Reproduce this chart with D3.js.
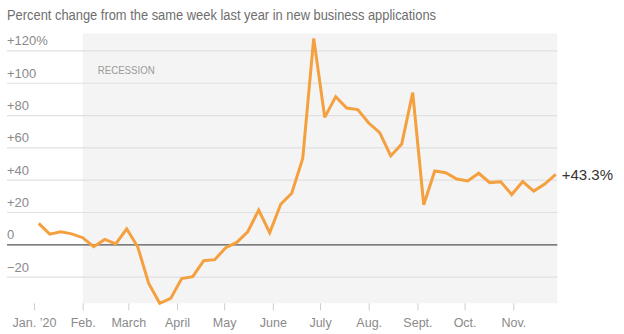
<!DOCTYPE html>
<html>
<head>
<meta charset="utf-8">
<script src="https://cdn.jsdelivr.net/npm/d3@7"></script>
<style>
  html, body { margin: 0; padding: 0; background: #fff; }
  svg { display: block; font-family: "Liberation Sans", Arial, sans-serif; }
</style>
</head>
<body>
<svg id="chart" width="624" height="334"></svg>
<script>
// Weekly change in new business applications vs. the same week a year earlier (weeks ending Saturday)
const weeks = [
  "2020-01-04","2020-01-11","2020-01-18","2020-01-25",
  "2020-02-01","2020-02-08","2020-02-15","2020-02-22","2020-02-29",
  "2020-03-07","2020-03-14","2020-03-21","2020-03-28",
  "2020-04-04","2020-04-11","2020-04-18","2020-04-25",
  "2020-05-02","2020-05-09","2020-05-16","2020-05-23","2020-05-30",
  "2020-06-06","2020-06-13","2020-06-20","2020-06-27",
  "2020-07-04","2020-07-11","2020-07-18","2020-07-25",
  "2020-08-01","2020-08-08","2020-08-15","2020-08-22","2020-08-29",
  "2020-09-05","2020-09-12","2020-09-19","2020-09-26",
  "2020-10-03","2020-10-10","2020-10-17","2020-10-24","2020-10-31",
  "2020-11-07","2020-11-14","2020-11-21","2020-11-28"
];
const pctChange = [
  13.0, 6.3, 7.7, 6.5,
  4.1, -1.5, 3.0, 0.2, 9.5,
  -1.5, -24.2, -36.5, -33.5,
  -21.2, -20.0, -10.1, -9.5,
  -2.1, 1.2, 7.8, 21.2, 7.2,
  24.8, 31.6, 53.2, 127.5,
  78.6, 91.4, 84.4, 83.4,
  75.1, 69.1, 54.7, 62.1, 93.9,
  24.5, 45.4, 44.3, 40.4,
  39.2, 44.0, 38.2, 38.7, 30.8,
  38.8, 33.0, 37.3, 43.3
];
const yTicks = [-20, 0, 20, 40, 60, 80, 100, 120];
const yTickLabels = ["\u221220", "0", "+20", "+40", "+60", "+80", "+100", "+120%"];
const monthStarts = ["2020-01-01","2020-02-01","2020-03-01","2020-04-01","2020-05-01","2020-06-01",
                     "2020-07-01","2020-08-01","2020-09-01","2020-10-01","2020-11-01"];
const monthLabels = ["Jan. \u201920", "Feb.", "March", "April", "May", "June",
                     "July", "Aug.", "Sept.", "Oct.", "Nov."];
const recessionStart = "2020-02-01";
const titleText = "Percent change from the same week last year in new business applications";
const recessionLabel = "RECESSION";

const parse = d3.utcParse("%Y-%m-%d");
const data = weeks.map((w, i) => ({ date: parse(w), value: pctChange[i] }));

const svg = d3.select("#chart");
const plotLeft = 34, plotRight = 557.3, plotTop = 33.5, plotBottom = 303.3;

const x = d3.scaleUtc()
  .domain([parse("2020-01-01"), parse("2020-11-29")])
  .range([plotLeft, plotRight]);
const y = d3.scaleLinear()
  .domain([-36.5, 130.5])
  .range([plotBottom, plotTop]);

// Title
svg.append("text")
  .attr("x", 7).attr("y", 20)
  .attr("fill", "#6e6e6e")
  .attr("font-size", 15.5)
  .attr("textLength", 429)
  .attr("lengthAdjust", "spacingAndGlyphs")
  .text(titleText);

// Recession shading
const recX = x(parse(recessionStart));
svg.append("rect")
  .attr("x", recX)
  .attr("y", plotTop)
  .attr("width", plotRight - recX)
  .attr("height", plotBottom - plotTop)
  .attr("fill", "#f4f4f4");

svg.append("text")
  .attr("x", recX + 15)
  .attr("y", 74)
  .attr("fill", "#9a9a9a")
  .attr("font-size", 10.5)
  .attr("textLength", 57)
  .attr("lengthAdjust", "spacingAndGlyphs")
  .text(recessionLabel);

// Horizontal gridlines with labels above them
const yAxis = d3.axisRight(y)
  .tickValues(yTicks)
  .tickSize(plotRight - 7)
  .tickFormat((d, i) => yTickLabels[i]);

const gy = svg.append("g")
  .attr("transform", "translate(7,0)")
  .call(yAxis);
gy.select(".domain").remove();
gy.selectAll(".tick line")
  .attr("stroke", d => d === 0 ? "#555" : "#e0e0e0")
  .attr("stroke-width", d => d === 0 ? 1.3 : 1.2);
gy.selectAll(".tick text")
  .attr("x", 0)
  .attr("dy", -5.5)
  .attr("text-anchor", "start")
  .attr("fill", "#8a8a8a")
  .attr("font-size", 13)
  .attr("font-family", "Liberation Sans, Arial, sans-serif");

// Month axis
const xAxis = d3.axisBottom(x)
  .tickValues(monthStarts.map(parse))
  .tickSize(7)
  .tickFormat((d, i) => monthLabels[i]);

const gx = svg.append("g")
  .attr("transform", `translate(0,${plotBottom})`)
  .call(xAxis);
gx.select(".domain").remove();
gx.selectAll(".tick line").attr("stroke", "#cfcfcf");
gx.selectAll(".tick text")
  .attr("y", 23.4)
  .attr("dy", null)
  .attr("fill", "#8a8a8a")
  .attr("font-size", 12.5)
  .attr("font-family", "Liberation Sans, Arial, sans-serif");

// Data line
const line = d3.line()
  .x(d => x(d.date))
  .y(d => y(d.value));

svg.append("path")
  .datum(data)
  .attr("fill", "none")
  .attr("stroke", "#f4a03f")
  .attr("stroke-width", 3)
  .attr("stroke-linejoin", "miter")
  .attr("stroke-miterlimit", 3)
  .attr("d", line);

// Latest value label
const last = data[data.length - 1];
svg.append("text")
  .attr("x", x(last.date) + 6)
  .attr("y", y(last.value) + 5.5)
  .attr("fill", "#333")
  .attr("font-size", 15)
  .text("+" + last.value.toFixed(1) + "%");
</script>
</body>
</html>
